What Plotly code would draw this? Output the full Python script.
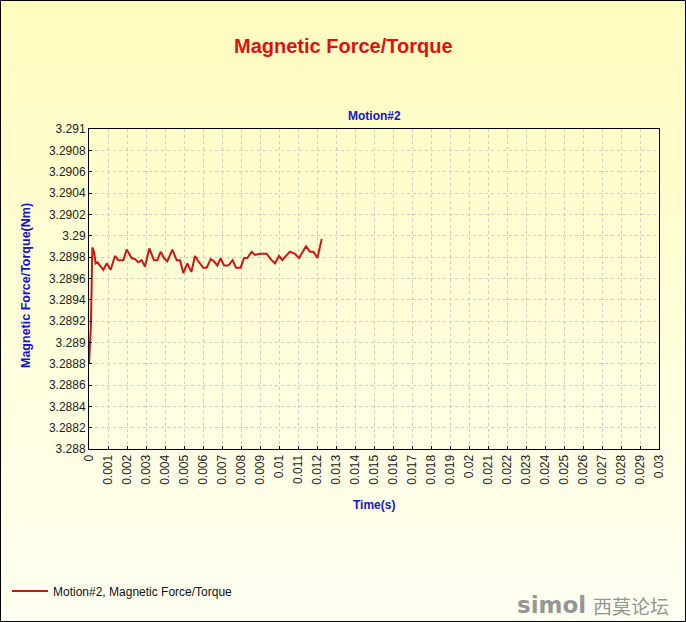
import plotly.graph_objects as go

# ---- data ----
time_s = [0.0, 0.00010, 0.000175, 0.000263, 0.000351, 0.000456, 0.000579, 0.000754,
          0.000930, 0.00114, 0.001368, 0.001544, 0.001807, 0.001982, 0.002246,
          0.002421, 0.002596, 0.002772, 0.002947, 0.003175, 0.003421, 0.003596,
          0.003772, 0.003947, 0.004123, 0.004386, 0.004614, 0.004789, 0.004965,
          0.005175, 0.005386, 0.005579, 0.005754, 0.006018, 0.006193, 0.006404,
          0.006579, 0.006754, 0.006930, 0.007105, 0.007333, 0.007561, 0.007737,
          0.007982, 0.008158, 0.008333, 0.008561, 0.008737, 0.009000, 0.009351,
          0.009561, 0.009790, 0.010000, 0.010175, 0.010368, 0.010579, 0.010842,
          0.011050, 0.011420, 0.011630, 0.011810, 0.012020, 0.012250]
torque_nm = [3.28880, 3.28915, 3.28989, 3.28985, 3.28974, 3.28975, 3.28972, 3.28968,
             3.28974, 3.28968, 3.28981, 3.28977, 3.28977, 3.28987, 3.28979,
             3.28978, 3.28975, 3.28977, 3.28971, 3.28988, 3.28977, 3.28977,
             3.28985, 3.28979, 3.28976, 3.28987, 3.28977, 3.28977, 3.28965,
             3.28974, 3.28966, 3.28981, 3.28976, 3.28970, 3.28970, 3.28978,
             3.28976, 3.28972, 3.28979, 3.28972, 3.28972, 3.28977, 3.28970,
             3.28970, 3.28979, 3.28979, 3.28985, 3.28982, 3.28983, 3.28983,
             3.28978, 3.28974, 3.28981, 3.28977, 3.28981, 3.28985, 3.28983,
             3.28979, 3.28990, 3.28985, 3.28985, 3.28979, 3.28997]

y_tick_vals = [3.288, 3.2882, 3.2884, 3.2886, 3.2888, 3.289, 3.2892, 3.2894,
               3.2896, 3.2898, 3.29, 3.2902, 3.2904, 3.2906, 3.2908, 3.291]
y_tick_text = ["3.288", "3.2882", "3.2884", "3.2886", "3.2888", "3.289", "3.2892",
               "3.2894", "3.2896", "3.2898", "3.29", "3.2902", "3.2904", "3.2906",
               "3.2908", "3.291"]
x_tick_vals = [0, 0.001, 0.002, 0.003, 0.004, 0.005, 0.006, 0.007, 0.008, 0.009,
               0.01, 0.011, 0.012, 0.013, 0.014, 0.015, 0.016, 0.017, 0.018, 0.019,
               0.02, 0.021, 0.022, 0.023, 0.024, 0.025, 0.026, 0.027, 0.028, 0.029, 0.03]
x_tick_text = ["0", "0.001", "0.002", "0.003", "0.004", "0.005", "0.006", "0.007",
               "0.008", "0.009", "0.01", "0.011", "0.012", "0.013", "0.014", "0.015",
               "0.016", "0.017", "0.018", "0.019", "0.02", "0.021", "0.022", "0.023",
               "0.024", "0.025", "0.026", "0.027", "0.028", "0.029", "0.03"]

series_name = "Motion#2, Magnetic Force/Torque"

# ---- layout geometry ----
W, H = 686, 622
L, R, T, B = 89, 27, 129, 173
PW, PH = W - L - R, H - T - B


def px_x(px):
    return (px - L) / PW


def px_y(py):
    return (H - B - py) / PH


fig = go.Figure()
fig.add_trace(go.Scatter(x=time_s, y=torque_nm, mode="lines", name=series_name,
                         line=dict(color="#D01414", width=2), showlegend=True))

shapes = []
# vertical background gradient
n = 60
top_c = (255, 252, 190)
bot_c = (255, 255, 242)
for i in range(n):
    f = i / (n - 1)
    c = tuple(round(top_c[k] + (bot_c[k] - top_c[k]) * f) for k in range(3))
    y0 = i * H / n
    y1 = (i + 1) * H / n + 1
    shapes.append(dict(type="rect", xref="paper", yref="paper", layer="below",
                       x0=px_x(0), x1=px_x(W), y0=px_y(y1), y1=px_y(y0),
                       line=dict(width=0), fillcolor="rgb(%d,%d,%d)" % c))
# outer border
shapes.append(dict(type="rect", xref="paper", yref="paper", layer="above",
                   x0=px_x(0.5), x1=px_x(W - 0.5), y0=px_y(H - 0.5), y1=px_y(0.5),
                   line=dict(color="black", width=1), fillcolor="rgba(0,0,0,0)"))

annotations = [
    dict(text="<b>Magnetic Force/Torque</b>", xref="paper", yref="paper",
         x=px_x(343), y=px_y(46), showarrow=False, xanchor="center", yanchor="middle",
         font=dict(family="Arial, Liberation Sans", size=20, color="#DD1111")),
    dict(text="<b>Motion#2</b>", xref="paper", yref="paper",
         x=px_x(374), y=px_y(116), showarrow=False, xanchor="center", yanchor="middle",
         font=dict(family="Arial, Liberation Sans", size=12, color="#1414C8")),
    dict(text="<b>Time(s)</b>", xref="paper", yref="paper",
         x=px_x(374), y=px_y(505), showarrow=False, xanchor="center", yanchor="middle",
         font=dict(family="Arial, Liberation Sans", size=12, color="#1414C8")),
    dict(text="<b>Magnetic Force/Torque(Nm)</b>", xref="paper", yref="paper",
         x=px_x(26), y=px_y(286), showarrow=False, xanchor="center", yanchor="middle",
         textangle=-90,
         font=dict(family="Arial, Liberation Sans", size=12.5, color="#1414C8")),
    dict(text="<b>simol</b>", xref="paper", yref="paper",
         x=px_x(588), y=px_y(605), showarrow=False, xanchor="right", yanchor="middle",
         font=dict(family="DejaVu Sans", size=23, color="#959595")),
    dict(text="西莫论坛", xref="paper", yref="paper",
         x=px_x(671), y=px_y(605), showarrow=False, xanchor="right", yanchor="middle",
         font=dict(family="Noto Sans CJK SC", size=19, color="#959595")),
]

axis_common = dict(showline=True, mirror=True, linecolor="black", linewidth=1,
                   showgrid=True, gridcolor="#CDCDCD", gridwidth=1, griddash="3px,3px",
                   zeroline=False, ticks="inside", ticklen=3, tickcolor="black",
                   tickfont=dict(family="Arial, Liberation Sans", size=12, color="#222222"))

fig.update_layout(
    width=W, height=H,
    margin=dict(l=L, r=R, t=T, b=B, pad=0, autoexpand=False),
    paper_bgcolor="#FFFFF0",
    plot_bgcolor="rgba(0,0,0,0)",
    xaxis=dict(range=[0, 0.03], tickmode="array", tickvals=x_tick_vals,
               ticktext=x_tick_text, tickangle=-90, automargin=False, **axis_common),
    yaxis=dict(range=[3.288, 3.291], tickmode="array", tickvals=y_tick_vals,
               ticktext=y_tick_text, automargin=False, **axis_common),
    showlegend=True,
    legend=dict(xref="container", yref="container", x=7 / W, y=1 - 591 / H,
                xanchor="left", yanchor="middle", itemwidth=36,
                bgcolor="rgba(0,0,0,0)", borderwidth=0,
                font=dict(family="Arial, Liberation Sans", size=12, color="#111111")),
    shapes=shapes,
    annotations=annotations,
)

fig.write_html("out.html")
